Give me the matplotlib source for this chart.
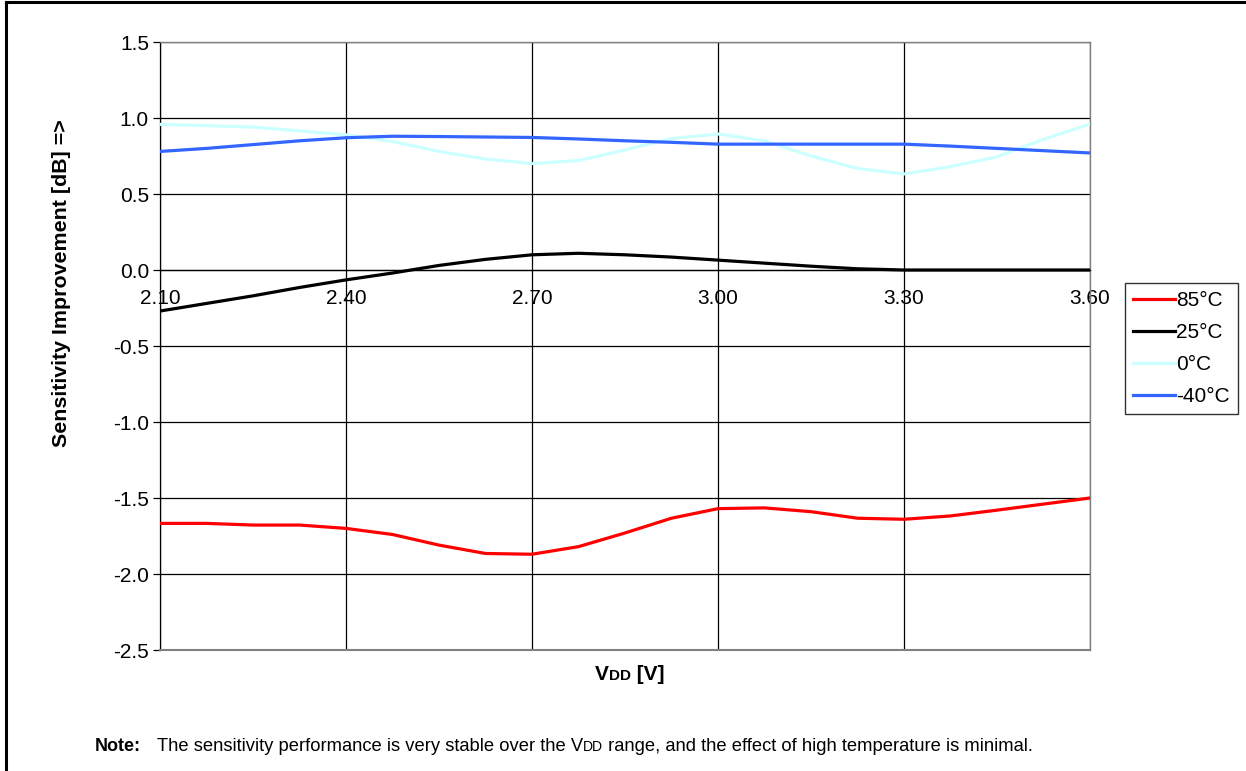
import matplotlib
matplotlib.use('Agg')
import matplotlib.pyplot as plt
from matplotlib.lines import Line2D

plt.rcParams['font.family'] = ['Liberation Sans', 'DejaVu Sans']

# supply voltage [V], read every 0.075 V
vdd = [2.100, 2.175, 2.250, 2.325, 2.400, 2.475, 2.550, 2.625, 2.700, 2.775, 2.850,
       2.925, 3.000, 3.075, 3.150, 3.225, 3.300, 3.375, 3.450, 3.525, 3.600]

t85 = [-1.667, -1.667, -1.678, -1.678, -1.700, -1.740, -1.810, -1.865, -1.870, -1.820, -1.730,
       -1.633, -1.570, -1.565, -1.590, -1.633, -1.640, -1.618, -1.580, -1.540, -1.500]
t25 = [-0.270, -0.220, -0.170, -0.115, -0.065, -0.020, 0.030, 0.070, 0.100, 0.110, 0.100,
       0.085, 0.065, 0.045, 0.025, 0.008, 0.000, 0.000, 0.000, 0.000, 0.000]
t0 = [0.958, 0.950, 0.940, 0.915, 0.890, 0.845, 0.780, 0.730, 0.700, 0.720, 0.790,
      0.865, 0.895, 0.850, 0.750, 0.668, 0.632, 0.680, 0.745, 0.860, 0.960]
tm40 = [0.780, 0.800, 0.825, 0.850, 0.870, 0.880, 0.878, 0.875, 0.872, 0.862, 0.850,
        0.840, 0.828, 0.828, 0.828, 0.828, 0.828, 0.815, 0.800, 0.785, 0.770]

series_names = ['85°C', '25°C', '0°C', '-40°C']
series_colors = ['#FF0000', '#000000', '#CCFFFF', '#3366FF']

xticks = [2.10, 2.40, 2.70, 3.00, 3.30, 3.60]
yticks = [-2.5, -2.0, -1.5, -1.0, -0.5, 0.0, 0.5, 1.0, 1.5]

W, H = 1246, 771
fig = plt.figure(figsize=(W / 100, H / 100), dpi=100)
ax = fig.add_axes([160 / W, 1 - 650 / H, 930 / W, 608 / H])

for vals, name, col in zip([t85, t25, t0, tm40], series_names, series_colors):
    ax.plot(vdd, vals, color=col, lw=2.3, label=name, zorder=3, solid_joinstyle='round')

ax.set_xlim(2.10, 3.60)
ax.set_ylim(-2.5, 1.5)
ax.set_xticks(xticks)
ax.set_xticklabels(['%.2f' % v for v in xticks])
ax.set_yticks(yticks)
ax.set_yticklabels(['%.1f' % v for v in yticks])
ax.grid(True, color='black', lw=0.9)
ax.set_axisbelow(True)

# category axis crosses at y = 0
ax.spines['bottom'].set_position(('data', 0))
ax.spines['bottom'].set_color('black')
ax.spines['bottom'].set_linewidth(0.9)
for s in ['top', 'right']:
    ax.spines[s].set_color('#808080')
    ax.spines[s].set_linewidth(1.0)
ax.spines['left'].set_color('black')
ax.spines['left'].set_linewidth(0.9)
ax.axhline(-2.5, color='#808080', lw=1.5, zorder=2.6, clip_on=False)

ax.tick_params(axis='x', length=0, pad=14, labelsize=15)
ax.tick_params(axis='y', length=5, width=0.9, direction='out', pad=3, labelsize=15)

leg = ax.legend(loc='upper left', bbox_to_anchor=(1125 / W, 1 - 283 / H),
                bbox_transform=fig.transFigure, fontsize=15, handlelength=2.0,
                handletextpad=0.05, labelspacing=0.62, borderpad=0.4,
                borderaxespad=0, fancybox=False, frameon=True)
leg.get_frame().set_edgecolor('black')
leg.get_frame().set_linewidth(1.0)

fig.text(62 / W, 1 - 283 / H, 'Sensitivity Improvement [dB] =>', rotation=90,
         fontsize=15.4, fontweight='bold', ha='center', va='center')


def small_caps_line(parts, x0, y0, ha='left'):
    # parts: list of (text, size, weight); draws pieces side by side
    fig.canvas.draw()
    r = fig.canvas.get_renderer()
    texts = []
    x = x0
    for txt, size, weight in parts:
        t = fig.text(x / W, 1 - y0 / H, txt, fontsize=size, fontweight=weight,
                     ha='left', va='baseline')
        bb = t.get_window_extent(renderer=r)
        x += bb.width
        texts.append(t)
    if ha == 'center':
        shift = (x - x0) / 2
        for t in texts:
            px, py = t.get_position()
            t.set_position((px - shift / W, py))
    return texts


small_caps_line([('V', 15, 'bold'), ('DD', 11, 'bold'), (' [V]', 15, 'bold')],
                630, 680, ha='center')

fig.text(95 / W, 1 - 751 / H, 'Note:', fontsize=13, fontweight='bold',
         ha='left', va='baseline')
small_caps_line([('The sensitivity performance is very stable over the V', 13.2, 'normal'),
                 ('DD', 10, 'normal'),
                 (' range, and the effect of high temperature is minimal.', 13.2, 'normal')],
                157, 751)

# page frame (top and left edges)
fig.add_artist(Line2D([6 / W, 6 / W], [0, 1 - 2 / H], color='black', lw=2.2,
                      transform=fig.transFigure))
fig.add_artist(Line2D([6 / W, 1], [1 - 2 / H, 1 - 2 / H], color='black', lw=2.2,
                      transform=fig.transFigure))

fig.savefig('out.png', dpi=100)
